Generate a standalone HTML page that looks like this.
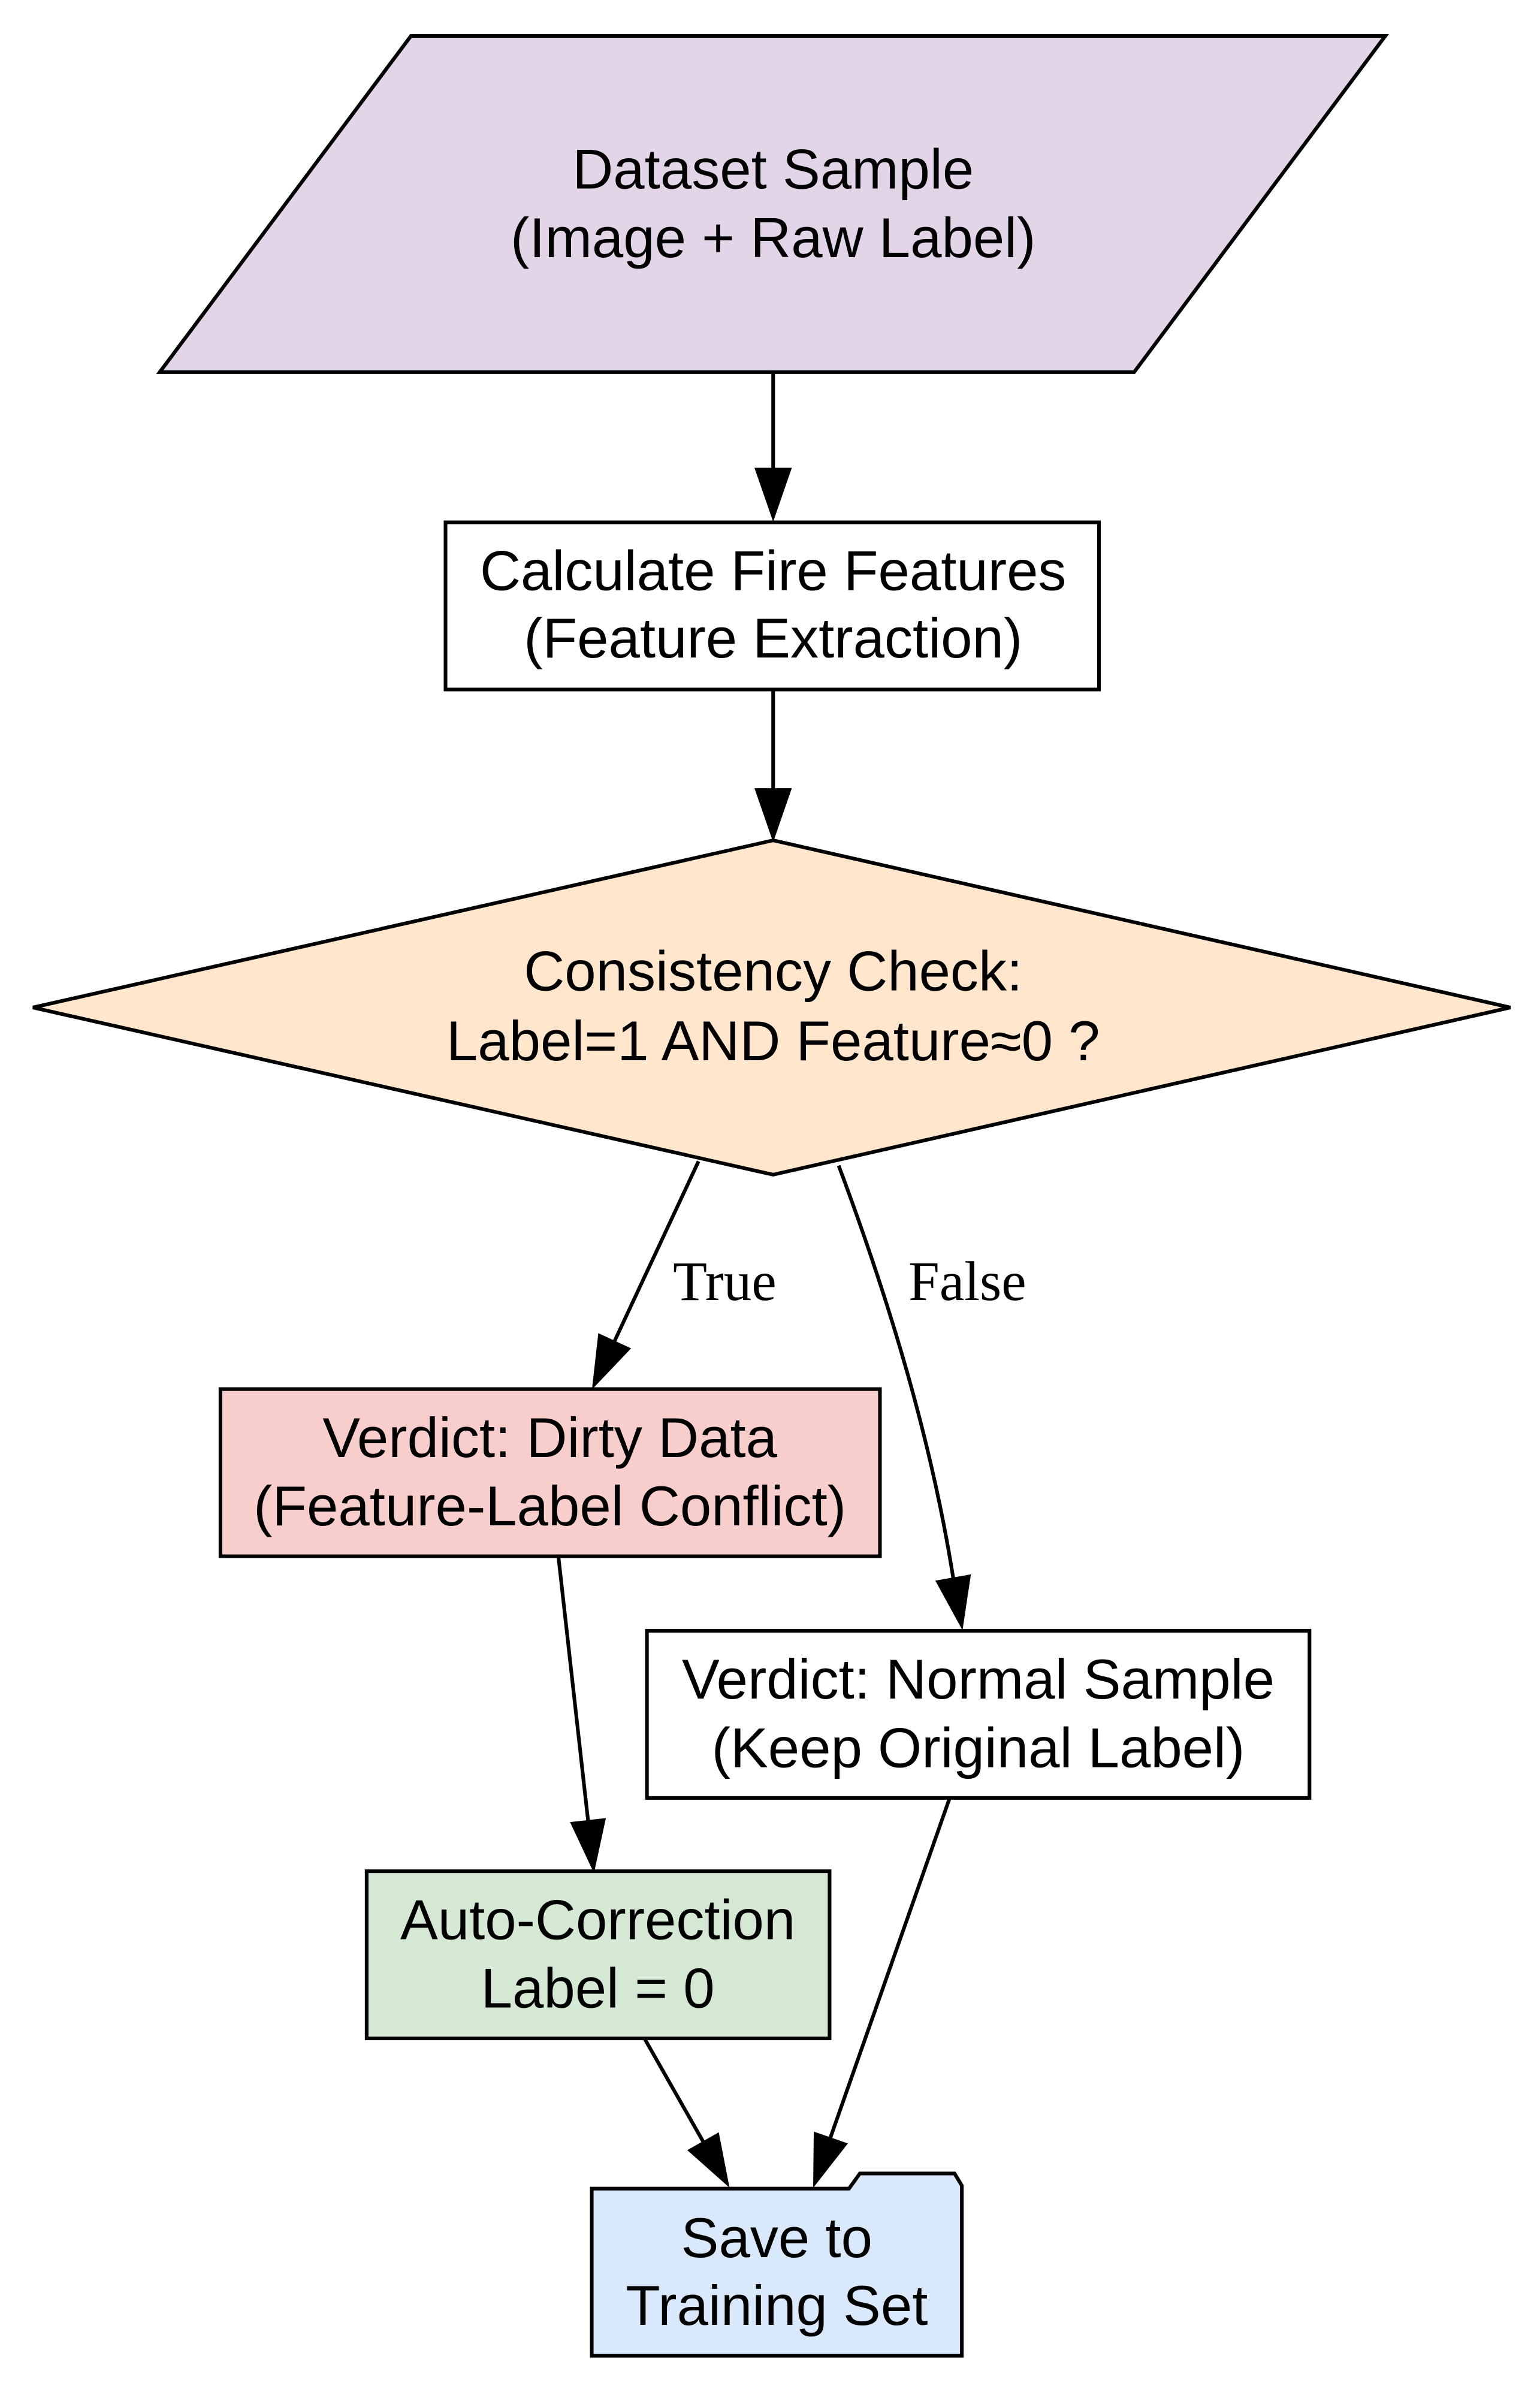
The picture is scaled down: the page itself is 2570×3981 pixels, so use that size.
<!DOCTYPE html>
<html><head><meta charset="utf-8"><style>
html,body{margin:0;padding:0;background:#fff;}
svg{display:block;}
text{font-family:"Liberation Sans",Arial,sans-serif;font-size:93px;fill:#000;text-anchor:middle;}
.lbl{font-family:"Liberation Serif","Times New Roman",serif;font-size:92px;text-anchor:start;}
</style></head><body>
<svg width="2570" height="3981" viewBox="0 0 2570 3981" xmlns="http://www.w3.org/2000/svg">
<g transform="translate(55,60) scale(1.0125,1.0106) translate(-55,-55)">
<g stroke="#000" stroke-width="6" fill="none">
<polygon points="678,55 2284,55 1870,610 264,610" fill="#e1d5e7"/>
<rect x="735" y="858" width="1077" height="276" fill="#fff"/>
<polygon points="1275,1383 2490,1659 1275,1935 55,1659" fill="#ffe6cc"/>
<rect x="364" y="2289" width="1087" height="276" fill="#f8cecc"/>
<rect x="1067" y="2688" width="1092" height="276" fill="#fff"/>
<rect x="605" y="3085" width="763" height="276" fill="#d5e8d4"/>
<path d="M976 3609 H1400 L1418 3584 H1574 L1586 3604 V3885 H976 Z" fill="#dae8fc"/>
<line x1="1275" y1="610" x2="1275" y2="775"/>
<line x1="1275" y1="1134" x2="1275" y2="1305"/>
<line x1="1152" y1="1913" x2="1013" y2="2211"/>
<path d="M1383 1920 C1480 2180 1540 2400 1572 2602"/>
<line x1="921" y1="2565" x2="970" y2="3002"/>
<line x1="1064" y1="3363" x2="1160" y2="3532"/>
<line x1="1566" y1="2964" x2="1369" y2="3526"/>
</g>
<g fill="#000" stroke="#000" stroke-width="4">
<polygon points="1247,770 1303,770 1275,851"/>
<polygon points="1247,1299 1303,1299 1275,1380"/>
<polygon points="1037.5,2222.4 988.5,2199.6 979,2284"/>
<polygon points="1598.6,2597.3 1545.4,2606.7 1586,2681"/>
<polygon points="996.8,2999.5 943.2,3005.5 979,3082"/>
<polygon points="1183.9,3519.1 1136.9,3545.9 1200,3602"/>
<polygon points="1394.9,3535.4 1343.9,3517.6 1343,3602"/>
</g>
<text x="1275" y="307">Dataset Sample</text>
<text x="1275" y="420">(Image + Raw Label)</text>
<text x="1275" y="970">Calculate Fire Features</text>
<text x="1275" y="1081">(Feature Extraction)</text>
<text x="1275" y="1631">Consistency Check:</text>
<text x="1275" y="1746">Label=1 AND Feature≈0 ?</text>
<text class="lbl" x="1110" y="2142">True</text>
<text class="lbl" x="1498" y="2142">False</text>
<text x="907" y="2401">Verdict: Dirty Data</text>
<text x="907" y="2514">(Feature-Label Conflict)</text>
<text x="1613" y="2800">Verdict: Normal Sample</text>
<text x="1613" y="2913">(Keep Original Label)</text>
<text x="986" y="3197">Auto-Correction</text>
<text x="986" y="3310">Label = 0</text>
<text x="1281" y="3722">Save to</text>
<text x="1281" y="3834">Training Set</text>
</g>
</svg>
</body></html>
